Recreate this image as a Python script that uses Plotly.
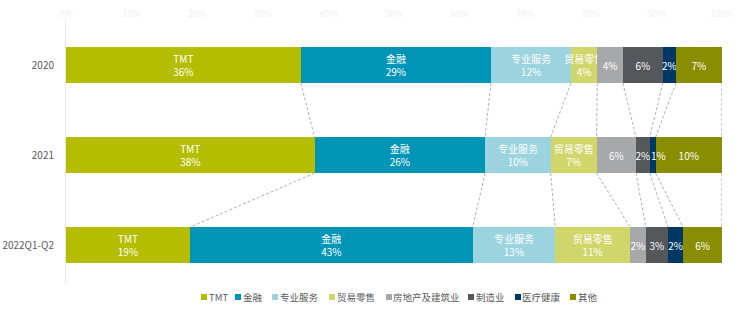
import plotly.graph_objects as go

periods = ["2020", "2021", "2022Q1-Q2"]
sectors = ["TMT", "金融", "专业服务", "贸易零售", "房地产及建筑业", "制造业", "医疗健康", "其他"]
# shares (%); labels show the rounded value
values = {
    "TMT": [35.8, 37.9, 18.9],
    "金融": [29.0, 26.0, 43.1],
    "专业服务": [12.2, 10.0, 12.6],
    "贸易零售": [4.0, 7.0, 11.4],
    "房地产及建筑业": [3.9, 6.0, 2.4],
    "制造业": [6.1, 2.1, 3.4],
    "医疗健康": [2.0, 0.9, 2.3],
    "其他": [7.0, 10.1, 5.9],
}
named_labels = ["TMT", "金融", "专业服务", "贸易零售"]
colors = ["#b5bd00", "#0095b6", "#9bd3df", "#d1d66a", "#a7a8aa", "#54585a", "#003865", "#8a8d00"]
xticks = list(range(0, 101, 10))
shifted_labels = {("医疗健康", 1): 6}  # label nudged right of its thin segment

FONT = "Noto Sans CJK SC, sans-serif"
ypos = list(range(len(periods)))
BW = 0.4

fig = go.Figure()
cum_prev = [0.0] * len(periods)
for s, c in zip(sectors, colors):
    vals = values[s]
    txt = []
    for i, v in enumerate(vals):
        lab = f"{round(v):.0f}%"
        if s in named_labels:
            lab = f"{s}<br>{lab}"
        if (s, i) in shifted_labels:
            fig.add_annotation(x=cum_prev[i] + v / 2, y=ypos[i], text=lab, showarrow=False,
                               xshift=shifted_labels[(s, i)],
                               font=dict(color="white", size=10, family=FONT))
            lab = ""
        txt.append(lab)
    fig.add_trace(go.Bar(
        y=ypos, x=vals, orientation="h", name=s, marker=dict(color=c, line=dict(width=0)),
        width=BW, text=txt, textposition="inside", insidetextanchor="middle",
        textangle=0, constraintext="none", cliponaxis=False,
        textfont=dict(color="white", size=10, family=FONT),
        hoverinfo="skip", showlegend=False,
    ))
    cum_prev = [a + b for a, b in zip(cum_prev, vals)]

# dashed connectors between cumulative boundaries
cum = []
for i in range(len(periods)):
    t = 0
    row = []
    for s in sectors:
        t += values[s][i]
        row.append(t)
    cum.append(row)
lx, ly = [], []
for i in range(len(periods) - 1):
    for k in range(len(sectors)):
        lx += [cum[i][k], cum[i + 1][k], None]
        ly += [i + BW / 2, i + 1 - BW / 2, None]
fig.add_trace(go.Scatter(x=lx, y=ly, mode="lines", line=dict(color="#9a9a9a", width=0.8, dash="3px,2px"),
                         hoverinfo="skip", showlegend=False, cliponaxis=False))

# manual legend (pixel layout converted to paper coords)
W_, H_ = 740, 323
L, R, T, B = 66, 18, 20, 40
PW, PH = W_ - L - R, H_ - T - B
def px2x(px):
    return (px - L) / PW
def py2y(py):
    return (H_ - B - py) / PH

sq_x = [201, 235, 272, 329, 386, 468, 515, 570]
txt_x = [208, 242, 279, 336, 392, 475, 521, 577]
LEG_Y = 297
for s, c, sx, tx in zip(sectors, colors, sq_x, txt_x):
    fig.add_shape(type="rect", xref="paper", yref="paper",
                  x0=px2x(sx), x1=px2x(sx + 6), y0=py2y(LEG_Y + 3), y1=py2y(LEG_Y - 3),
                  fillcolor=c, line=dict(width=0))
    fig.add_annotation(
        x=px2x(tx), y=py2y(LEG_Y), xref="paper", yref="paper", xanchor="left", yanchor="middle",
        text=s, showarrow=False, xshift=-1,
        font=dict(size=9.5, color="#595959", family=FONT),
    )

fig.update_layout(
    width=W_, height=H_, barmode="stack",
    margin=dict(l=L, r=R, t=T, b=B),
    paper_bgcolor="white", plot_bgcolor="white",
    font=dict(family=FONT, color="#595959"),
    xaxis=dict(side="top", range=[0, 100.02], tickvals=xticks, ticktext=[f"{t}%" for t in xticks],
               showgrid=False, zeroline=False, showline=False, ticks="", automargin=False,
               tickfont=dict(size=9, color="#f0f0f0")),
    yaxis=dict(range=[2.42, -0.5], tickvals=ypos, ticktext=periods, showgrid=False, zeroline=False,
               showline=True, linecolor="#e6e6e6", linewidth=1, ticks="", ticklabelstandoff=9,
               automargin=False, tickfont=dict(size=10, color="#595959")),
    showlegend=False,
)
fig.write_html("out.html")
